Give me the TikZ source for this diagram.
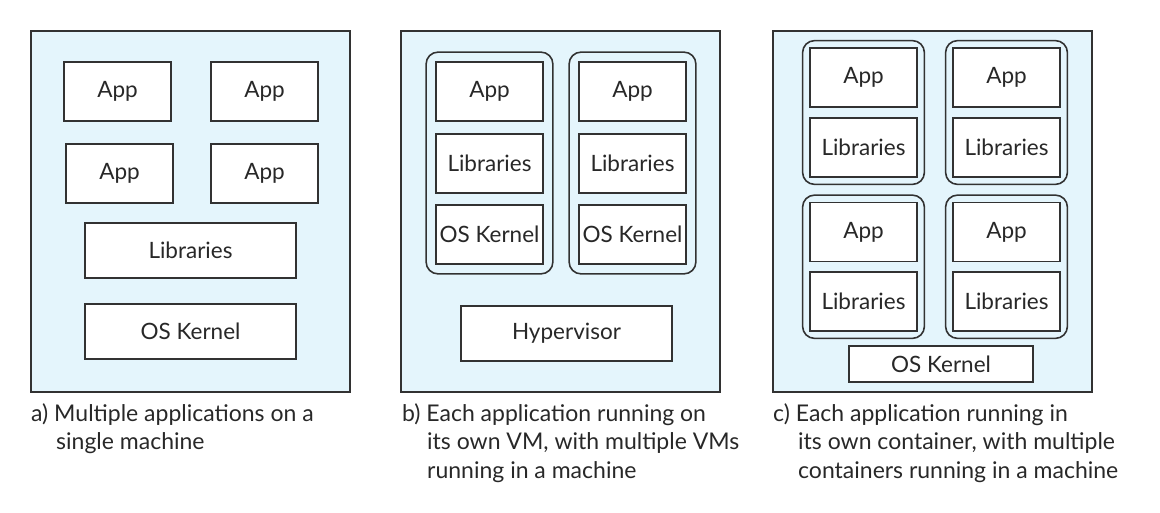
\documentclass[tikz,border=0pt]{standalone}
\usepackage{fontspec}
\setmainfont{Lato}
\usepackage{tikz}
\usetikzlibrary{calc}
\usetikzlibrary{positioning, fit}

\definecolor{machinefill}{RGB}{228,245,252}
\definecolor{edgegray}{RGB}{50,50,50}
\definecolor{textgray}{RGB}{40,40,40}

\begin{document}
\begin{tikzpicture}[
    x=1pt, y=-1pt,
    font=\fontsize{22.5}{26}\selectfont,
    text=textgray,
    % Frames and layers
    machine/.style={draw=edgegray, line width=1.5pt, fill=machinefill, minimum width=319pt, minimum height=361pt, inner sep=0pt},
    layer/.style={draw=edgegray, line width=1.8pt, fill=white, inner sep=0pt},
    small_layer/.style={layer, minimum width=107pt, minimum height=59pt},
    wide_layer/.style={layer, minimum width=211pt, minimum height=55pt},
    vm_box/.style={draw=edgegray, line width=1.6pt, rounded corners=12pt, inner sep=9pt},
    cont_box/.style={draw=edgegray, line width=1.6pt, rounded corners=12pt, inner sep=6.5pt},
    caption/.style={anchor=north west, inner sep=0pt, align=left, font=\fontsize{23}{28.5}\selectfont}
]
\useasboundingbox (0,0) rectangle (1160,513);

% --- 1. Single machine, many apps ---

\node[machine] (mach_a) at (190.5,211.5) {};

\node[small_layer] (a_app1) at (117.5,91.5) {App};
\node[small_layer] (a_app2) at (264.5,91.5) {App};
\node[small_layer] (a_app3) at (119.5,173.5) {App};
\node[small_layer] (a_app4) at (264.5,173.5) {App};
\node[wide_layer] (a_lib) at (190.5,250.5) {Libraries};
\node[wide_layer] (a_os) at (190.5,331.5) {OS Kernel};

\node[caption] (cap_a) at (31,403) {a) Multiple applications on a\\\hspace*{25pt}single machine};


% --- 2. Virtual machines on a hypervisor ---

\node[machine] (mach_b) at (560.5,211.5) {};

% VM 1
\node[small_layer] (b_app1) at (489.5,91.5) {App};
\node[small_layer] (b_lib1) at (489.5,163.5) {Libraries};
\node[small_layer] (b_os1) at (489.5,234.5) {OS Kernel};
\node[vm_box, fit=(b_app1)(b_os1)] (vm1) {};

% VM 2
\node[small_layer] (b_app2) at (632.5,91.5) {App};
\node[small_layer] (b_lib2) at (632.5,163.5) {Libraries};
\node[small_layer] (b_os2) at (632.5,234.5) {OS Kernel};
\node[vm_box, fit=(b_app2)(b_os2)] (vm2) {};

\node[wide_layer] (hyper) at (566.5,333.5) {Hypervisor};

\node[caption] (cap_b) at (402,403) {b) Each application running on\\\hspace*{25pt}its own VM, with multiple VMs\\\hspace*{25pt}running in a machine};


% --- 3. Containers sharing one kernel ---

\node[machine] (mach_c) at (932.5,211.5) {};

% top row
\node[small_layer] (c_app1) at (863.5,77.5) {App};
\node[small_layer] (c_lib1) at (863.5,147.5) {Libraries};
\node[cont_box, fit=(c_app1)(c_lib1)] (cont1) {};

\node[small_layer] (c_app2) at (1006.5,77.5) {App};
\node[small_layer] (c_lib2) at (1006.5,147.5) {Libraries};
\node[cont_box, fit=(c_app2)(c_lib2)] (cont2) {};

% bottom row
\node[small_layer] (c_app3) at (863.5,232) {App};
\node[small_layer] (c_lib3) at (863.5,301.5) {Libraries};
\node[cont_box, fit=(c_app3)(c_lib3)] (cont3) {};

\node[small_layer] (c_app4) at (1006.5,232) {App};
\node[small_layer] (c_lib4) at (1006.5,301.5) {Libraries};
\node[cont_box, fit=(c_app4)(c_lib4)] (cont4) {};

\node[layer, minimum width=184pt, minimum height=36pt] (c_os) at (941,364) {OS Kernel};

\node[caption] (cap_c) at (773,403) {c) Each application running in\\\hspace*{25pt}its own container, with multiple\\\hspace*{25pt}containers running in a machine};

\end{tikzpicture}
\end{document}
